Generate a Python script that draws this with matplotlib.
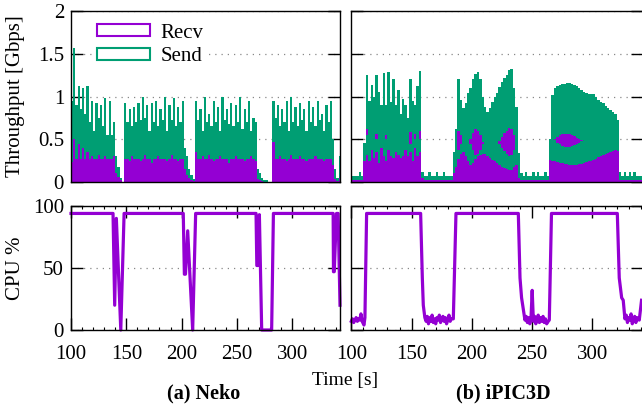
import numpy as np
import matplotlib.pyplot as plt
from matplotlib.patches import Patch

plt.rcParams['font.family'] = ['Liberation Serif', 'DejaVu Serif']
plt.rcParams['font.size'] = 15

PURPLE = '#9400d3'
GREEN = '#009e73'

# throughput is sampled in 2 s bins, left edge of each bin (100 .. 342)
t_bins = np.arange(100, 344, 2)

# --- Neko throughput [Gbps] ---
neko_send = [
    0.95, 1.57, 0.90, 1.12, 0.85, 1.10, 0.80, 1.12, 0.70, 0.95,
    0.60, 0.92, 0.75, 0.90, 0.65, 0.98, 0.55, 0.95, 0.55, 0.70,
    0.30, 0.18, 0.05, 0.00, 0.92, 0.70, 0.85, 0.65, 0.88, 0.70,
    0.92, 0.72, 1.00, 0.75, 0.90, 0.60, 0.92, 0.70, 0.95, 0.65,
    0.85, 0.72, 1.00, 0.60, 0.90, 0.72, 0.98, 0.65, 0.88, 0.70,
    0.95, 0.40, 0.30, 0.15, 0.08, 0.03, 0.95, 0.72, 0.85, 0.60,
    1.00, 0.70, 0.80, 0.65, 0.95, 0.70, 0.88, 0.60, 1.00, 0.72,
    0.85, 0.68, 0.92, 0.65, 0.90, 0.70, 1.00, 0.62, 0.85, 0.70,
    0.95, 0.60, 0.75, 0.70, 0.15, 0.10, 0.05, 0.02, 0.02, 0.00,
    0.00, 0.95, 0.75, 0.90, 0.65, 0.85, 0.70, 0.95, 0.60, 1.00,
    0.70, 0.88, 0.65, 0.92, 0.72, 0.85, 0.60, 0.95, 0.70, 0.88,
    0.65, 0.95, 0.72, 0.80, 0.60, 0.90, 0.70, 0.95, 0.50, 0.15,
    0.05, 0.30,
]
neko_recv = [
    0.23, 0.50, 0.27, 0.45, 0.27, 0.40, 0.27, 0.35, 0.27, 0.30,
    0.27, 0.27, 0.32, 0.27, 0.27, 0.30, 0.27, 0.27, 0.27, 0.30,
    0.10, 0.06, 0.02, 0.00, 0.27, 0.27, 0.25, 0.30, 0.27, 0.27,
    0.27, 0.25, 0.27, 0.32, 0.27, 0.27, 0.22, 0.27, 0.27, 0.30,
    0.27, 0.27, 0.27, 0.25, 0.27, 0.32, 0.27, 0.27, 0.25, 0.27,
    0.27, 0.15, 0.08, 0.05, 0.02, 0.01, 0.35, 0.27, 0.27, 0.30,
    0.27, 0.27, 0.32, 0.27, 0.25, 0.27, 0.27, 0.30, 0.27, 0.27,
    0.27, 0.22, 0.27, 0.27, 0.30, 0.27, 0.27, 0.27, 0.25, 0.27,
    0.27, 0.30, 0.27, 0.25, 0.04, 0.02, 0.01, 0.00, 0.00, 0.00,
    0.00, 0.47, 0.27, 0.27, 0.30, 0.27, 0.27, 0.25, 0.27, 0.32,
    0.27, 0.27, 0.27, 0.30, 0.27, 0.27, 0.25, 0.27, 0.27, 0.27,
    0.30, 0.27, 0.27, 0.27, 0.25, 0.27, 0.27, 0.27, 0.20, 0.03,
    0.01, 0.05,
]

# --- iPIC3D throughput [Gbps], two nodes overlaid ---
ipic_send_0 = [
    0.07, 0.07, 0.07, 0.12, 0.07, 0.46, 1.25, 0.95, 1.13, 1.00,
    1.25, 1.05, 0.90, 1.28, 0.90, 1.29, 0.93, 1.20, 0.90, 1.08,
    0.80, 0.97, 0.90, 0.75, 1.20, 0.95, 0.90, 1.12, 1.30, 0.12,
    0.07, 0.07, 0.12, 0.07, 0.07, 0.12, 0.07, 0.07, 0.12, 0.07,
    0.07, 0.07, 0.35, 0.62, 1.21, 0.96, 0.86, 0.92, 1.04, 1.10,
    1.21, 1.26, 1.29, 1.21, 1.00, 0.88, 0.82, 0.86, 0.94, 1.00,
    1.04, 1.11, 1.17, 1.22, 1.25, 1.31, 1.32, 1.10, 0.88, 0.34,
    0.10, 0.07, 0.12, 0.07, 0.07, 0.12, 0.07, 0.12, 0.07, 0.07,
    0.12, 0.07, 0.50, 1.02, 1.10, 1.12, 1.14, 1.15, 1.15, 1.16,
    1.16, 1.15, 1.13, 1.12, 1.10, 1.08, 1.05, 1.04, 1.03, 1.03,
    1.03, 1.00, 0.96, 0.94, 0.92, 0.89, 0.86, 0.84, 0.82, 0.80,
    0.72, 0.12, 0.07, 0.12, 0.07, 0.12, 0.07, 0.12, 0.07, 0.07,
    0.07, 0.07,
]
ipic_recv_0 = [
    0.02, 0.02, 0.02, 0.03, 0.02, 0.30, 0.62, 0.40, 0.42, 0.35,
    0.56, 0.38, 0.40, 0.40, 0.55, 0.35, 0.40, 0.42, 0.45, 0.35,
    0.40, 0.40, 0.45, 0.35, 0.58, 0.40, 0.56, 0.45, 0.60, 0.05,
    0.02, 0.02, 0.03, 0.02, 0.02, 0.03, 0.02, 0.02, 0.03, 0.02,
    0.02, 0.02, 0.15, 0.40, 0.60, 0.55, 0.45, 0.40, 0.45, 0.50,
    0.57, 0.62, 0.60, 0.55, 0.47, 0.38, 0.35, 0.38, 0.42, 0.45,
    0.46, 0.48, 0.53, 0.57, 0.60, 0.63, 0.62, 0.55, 0.45, 0.10,
    0.02, 0.02, 0.03, 0.02, 0.02, 0.03, 0.02, 0.03, 0.02, 0.02,
    0.02, 0.02, 0.45, 0.47, 0.50, 0.53, 0.55, 0.56, 0.565, 0.565,
    0.56, 0.55, 0.54, 0.52, 0.50, 0.49, 0.47, 0.45, 0.44, 0.43,
    0.42, 0.41, 0.40, 0.39, 0.38, 0.37, 0.36, 0.35, 0.34, 0.33,
    0.30, 0.02, 0.02, 0.03, 0.02, 0.03, 0.02, 0.03, 0.02, 0.02,
    0.02, 0.02,
]
ipic_send_1 = [
    0.05, 0.05, 0.05, 0.05, 0.05, 0.46, 0.55, 0.50, 0.45, 0.60,
    0.50, 0.55, 0.45, 0.60, 0.50, 0.55, 0.45, 0.60, 0.50, 0.55,
    0.48, 0.60, 0.50, 0.55, 0.45, 0.60, 0.50, 0.58, 0.50, 0.10,
    0.05, 0.05, 0.05, 0.05, 0.05, 0.05, 0.05, 0.05, 0.05, 0.05,
    0.05, 0.05, 0.30, 0.40, 0.38, 0.45, 0.50, 0.55, 0.50, 0.45,
    0.38, 0.32, 0.33, 0.37, 0.45, 0.55, 0.60, 0.58, 0.55, 0.50,
    0.47, 0.45, 0.40, 0.36, 0.33, 0.30, 0.32, 0.38, 0.45, 0.30,
    0.05, 0.05, 0.05, 0.05, 0.05, 0.05, 0.05, 0.05, 0.05, 0.05,
    0.05, 0.05, 0.50, 0.50, 0.49, 0.46, 0.44, 0.42, 0.41, 0.41,
    0.41, 0.42, 0.43, 0.45, 0.46, 0.48, 0.50, 0.52, 0.54, 0.55,
    0.56, 0.57, 0.58, 0.59, 0.60, 0.60, 0.61, 0.62, 0.62, 0.63,
    0.60, 0.05, 0.05, 0.05, 0.05, 0.05, 0.05, 0.05, 0.05, 0.05,
    0.05, 0.05,
]
ipic_recv_1 = [
    0.02, 0.02, 0.02, 0.02, 0.02, 0.25, 0.32, 0.25, 0.38, 0.28,
    0.35, 0.22, 0.40, 0.30, 0.25, 0.38, 0.30, 0.28, 0.35, 0.32,
    0.28, 0.30, 0.38, 0.30, 0.35, 0.25, 0.40, 0.30, 0.35, 0.05,
    0.02, 0.02, 0.02, 0.02, 0.02, 0.02, 0.02, 0.02, 0.02, 0.02,
    0.02, 0.02, 0.10, 0.18, 0.27, 0.33, 0.35, 0.30, 0.24, 0.20,
    0.22, 0.27, 0.30, 0.32, 0.33, 0.33, 0.30, 0.28, 0.26, 0.24,
    0.22, 0.20, 0.18, 0.16, 0.15, 0.14, 0.14, 0.17, 0.20, 0.05,
    0.02, 0.02, 0.02, 0.02, 0.02, 0.02, 0.02, 0.02, 0.02, 0.02,
    0.02, 0.02, 0.26, 0.25, 0.24, 0.23, 0.22, 0.22, 0.21, 0.21,
    0.20, 0.20, 0.20, 0.20, 0.21, 0.21, 0.22, 0.23, 0.24, 0.25,
    0.26, 0.27, 0.29, 0.30, 0.31, 0.33, 0.34, 0.35, 0.36, 0.37,
    0.36, 0.02, 0.02, 0.02, 0.02, 0.02, 0.02, 0.02, 0.02, 0.02,
    0.02, 0.02,
]

# --- CPU % ---
neko_cpu_t = [100, 138, 139.5, 141, 145, 148, 201.5, 202.5, 203.5, 205.5,
              210, 212.7, 267.3, 268, 268.8, 270.3, 272.4, 281.4, 283,
              337, 337.3, 338, 340, 341.5, 343.2]
neko_cpu = [94, 94, 20, 90, 0, 94, 94, 45, 45, 80,
            0, 94, 94, 52, 52, 93, 0, 0, 94,
            94, 47, 47, 94, 94, 20]

ipic_cpu_t = [100, 101, 102, 103, 104, 105, 106, 107, 108, 109, 110.5, 111.3, 112.7,
              157.5, 158.9, 159.7, 161, 162, 163, 164, 165, 166, 167, 168, 169, 170,
              171, 172, 173, 174, 175, 176, 177, 178, 179, 180, 181, 182, 183,
              184.6, 186.8,
              238.5, 239.9, 241.2, 242.6, 244, 245, 246, 247, 248, 249, 250, 251,
              252, 253, 254, 255, 256, 257, 258, 259, 260, 261, 262, 263.3, 264.2, 266,
              320.6, 322.2, 324.2, 325.5, 326.9, 328, 329, 330, 331, 332, 333, 334,
              335, 336, 337, 338.8, 340.7]
ipic_cpu = [7, 9, 6, 8, 10, 7, 9, 8, 13, 7, 4, 10, 94,
            94, 42, 20, 10, 7, 11, 5, 10, 7, 12, 6, 9, 5,
            10, 8, 12, 6, 9, 11, 7, 10, 5, 8, 12, 7, 9,
            9, 94,
            94, 42, 26, 17, 8, 11, 6, 10, 5, 9, 32, 7,
            11, 5, 9, 12, 6, 10, 7, 11, 6, 9, 5, 7, 8, 94,
            94, 42, 26, 24, 9, 12, 6, 10, 8, 13, 5, 9,
            11, 6, 10, 8, 24]

W, H = 642, 405
fig = plt.figure(figsize=(W / 100, H / 100), dpi=100)


def px_axes(l, t, r, b):
    return fig.add_axes([l / W, 1 - b / H, (r - l) / W, (b - t) / H])


ax_tl = px_axes(71, 11, 340, 182)
ax_tr = px_axes(351.3, 11, 643, 182)
ax_bl = px_axes(71, 206, 340, 330)
ax_br = px_axes(351.3, 206, 643, 330)

XR_LEFT = (100, 343.2)
XR_RIGHT = (100, 341.9)


def style(ax, xlim, ylim, yticks, ylabels, bottom):
    ax.set_xlim(xlim)
    ax.set_ylim(ylim)
    ax.set_axisbelow(True)
    ax.yaxis.grid(True, linestyle=(0, (1, 4)), color='#888888', linewidth=0.9)
    ax.set_yticks(yticks)
    if ylabels:
        ax.set_yticklabels(ylabels)
    else:
        ax.set_yticklabels([])
    ax.tick_params(axis='y', direction='in', left=True, right=True,
                   length=8.5, width=1, pad=5)
    if bottom:
        ax.set_xticks([100, 150, 200, 250, 300])
        ax.set_xticks(np.arange(110, 350, 10), minor=True)
        ax.tick_params(axis='x', which='major', direction='in', top=True,
                       bottom=True, length=8.5, width=1, pad=11)
        ax.tick_params(axis='x', which='minor', direction='in', top=True,
                       bottom=True, length=2.5, width=0.8)
    else:
        ax.set_xticks([])
    for s in ax.spines.values():
        s.set_linewidth(1.0)


# throughput panels
style(ax_tl, XR_LEFT, (0, 2), [0, 0.5, 1, 1.5, 2],
      ['0', '0.5', '1', '1.5', '2'], False)
style(ax_tr, XR_RIGHT, (0, 2), [0, 0.5, 1, 1.5, 2], None, False)

ax_tl.bar(t_bins, neko_send, width=2, align='edge', color=GREEN, linewidth=0)
ax_tl.bar(t_bins, neko_recv, width=2, align='edge', color=PURPLE, linewidth=0)

ax_tr.bar(t_bins, ipic_send_0, width=2, align='edge', color=GREEN, linewidth=0)
ax_tr.bar(t_bins, ipic_recv_0, width=2, align='edge', color=PURPLE, linewidth=0)
ax_tr.bar(t_bins, ipic_send_1, width=2, align='edge', color=GREEN, linewidth=0)
ax_tr.bar(t_bins, ipic_recv_1, width=2, align='edge', color=PURPLE, linewidth=0)

ax_tl.set_ylabel('Throughput [Gbps]')
ax_tl.yaxis.set_label_coords(-0.17, 0.5)

handles = [Patch(facecolor='white', edgecolor=PURPLE, linewidth=1.5, label='Recv'),
           Patch(facecolor='white', edgecolor=GREEN, linewidth=1.5, label='Send')]
ax_tl.legend(handles=handles, loc='upper left', bbox_to_anchor=(0.085, 0.945),
             frameon=True, facecolor='white', edgecolor='none', framealpha=1,
             fancybox=False, handlelength=2.55, handleheight=0.52,
             handletextpad=0.5, borderaxespad=0, borderpad=0.15,
             labelspacing=0.22)

# CPU panels
style(ax_bl, XR_LEFT, (0, 100), [0, 50, 100], ['0', '50', '100'], True)
style(ax_br, XR_RIGHT, (0, 100), [0, 50, 100], None, True)

ax_bl.plot(neko_cpu_t, neko_cpu, color=PURPLE, linewidth=2.3, clip_on=False)
ax_br.plot(ipic_cpu_t, ipic_cpu, color=PURPLE, linewidth=2.3, clip_on=False)

ax_bl.set_ylabel('CPU %')
ax_bl.yaxis.set_label_coords(-0.17, 0.5)

fig.text(345 / W, 1 - 380 / H, 'Time [s]', ha='center', va='center', fontsize=14)
fig.text(204 / W, 1 - 393 / H, '(a) Neko', ha='center', va='center',
         fontsize=14.5, fontweight='bold')
fig.text(503 / W, 1 - 393 / H, '(b) iPIC3D', ha='center', va='center',
         fontsize=14.5, fontweight='bold')

fig.savefig('out.png', dpi=100)
